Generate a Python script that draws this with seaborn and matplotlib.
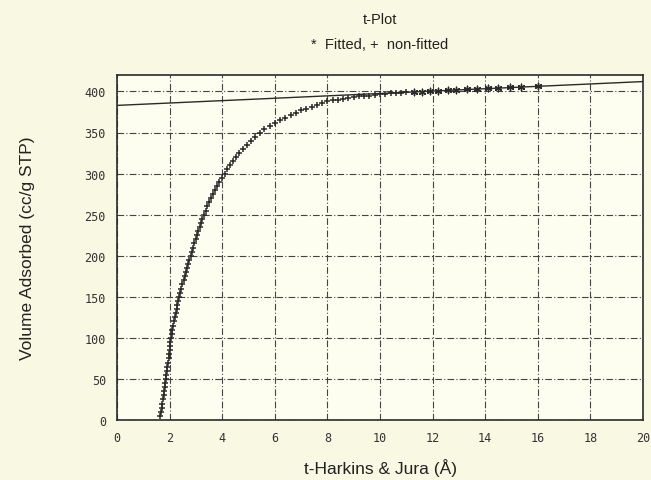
import matplotlib
matplotlib.use("Agg")
import matplotlib.pyplot as plt
import seaborn as sns
import pandas as pd

# ---- data ----
nonfit_t = [1.65, 1.67, 1.70, 1.72, 1.74, 1.77, 1.79, 1.81, 1.84, 1.86,
            1.88, 1.90, 1.92, 1.94, 1.96, 1.98, 2.00, 2.02, 2.03, 2.05,
            2.08, 2.11, 2.14, 2.17, 2.20, 2.23, 2.27, 2.30, 2.33, 2.36,
            2.40, 2.45, 2.49, 2.53, 2.57, 2.62, 2.66, 2.71, 2.75, 2.80,
            2.85, 2.89, 2.94, 2.99, 3.04, 3.09, 3.14, 3.19, 3.25, 3.30,
            3.37, 3.43, 3.50, 3.57, 3.64, 3.72, 3.80, 3.89, 3.99, 4.10,
            4.19, 4.29, 4.40, 4.52, 4.64, 4.78, 4.93, 5.08, 5.25, 5.45,
            5.60, 5.80, 6.00, 6.20, 6.40, 6.60, 6.80, 7.00, 7.20, 7.40,
            7.60, 7.80, 8.00, 8.20, 8.40, 8.60, 8.80, 9.00, 9.20, 9.40,
            9.60, 9.80, 10.0, 10.2, 10.4, 10.6, 10.8, 11.0]
nonfit_v = [5, 10, 15, 20, 25, 30, 35, 40, 45, 50,
            55, 60, 65, 70, 75, 80, 85, 90, 95, 100,
            105, 110, 115, 120, 125, 130, 135, 140, 145, 150,
            155, 160, 165, 170, 175, 180, 185, 190, 195, 200,
            205, 210, 215, 220, 225, 230, 235, 240, 245, 250,
            255, 260, 265, 270, 275, 280, 285, 290, 295, 300,
            305, 310, 315, 320, 325, 330, 335, 340, 345, 350,
            354, 358, 362, 365, 368, 371, 374, 377, 379, 381,
            384, 386, 388, 389, 390, 391, 392, 393, 394, 394.5,
            395, 396, 396.5, 397, 397.5, 398, 398.5, 399]

fit_t = [11.3, 11.6, 11.9, 12.2, 12.6, 12.9, 13.3, 13.7, 14.1, 14.5, 14.96, 15.35, 16.0]
fit_v = [399.6, 399.6, 400.6, 400.5, 401.6, 401.5, 402.6, 402.6, 403.7, 403.8, 405.0, 405.1, 406.4]

line_t = [0, 20]
line_v = [383, 412]

x_ticks = [0, 2, 4, 6, 8, 10, 12, 14, 16, 18, 20]
y_ticks = [0, 50, 100, 150, 200, 250, 300, 350, 400]

# ---- style ----
sns.set_theme(style="white")
plt.rcParams['font.family'] = ['Liberation Sans', 'DejaVu Sans']

ink = "#2a2a2a"
fig = plt.figure(figsize=(6.51, 4.81), dpi=100, facecolor="#f9f8e2")
ax = fig.add_axes([117/651, 1-421/481, (643-117)/651, (421-76)/481])
ax.set_facecolor("#fdfdf0")

df_nf = pd.DataFrame({"t": nonfit_t, "v": nonfit_v})
df_f = pd.DataFrame({"t": fit_t, "v": fit_v})
df_l = pd.DataFrame({"t": line_t, "v": line_v})

sns.lineplot(data=df_l, x="t", y="v", ax=ax, color=ink, linewidth=1.0)
sns.scatterplot(data=df_nf, x="t", y="v", ax=ax, marker="+", s=18,
                color=ink, linewidth=1.1)
sns.scatterplot(data=df_f, x="t", y="v", ax=ax, marker=(6, 2, 0), s=22,
                color=ink, linewidth=1.0)

ax.set_xlim(0, 20)
ax.set_ylim(0, 420)
ax.set_xticks(x_ticks)
ax.set_yticks(y_ticks)
ax.set_xticklabels([str(v) for v in x_ticks], family="DejaVu Sans Mono",
                   fontsize=8.5, color="#333333")
ax.set_yticklabels([str(v) for v in y_ticks], family="DejaVu Sans Mono",
                   fontsize=8.5, color="#333333")
ax.tick_params(axis="both", direction="inout", length=8, width=1.0,
               color=ink, pad=4)
ax.grid(True, color="#444444", linestyle=(0, (6, 2, 1, 2)), linewidth=0.8)
for s in ax.spines.values():
    s.set_color(ink)
    s.set_linewidth(1.2)
    s.set_visible(True)

ax.set_xlabel("t-Harkins & Jura (Å)", fontsize=12.5, color="#222222", labelpad=10)
ax.set_ylabel("Volume Adsorbed (cc/g STP)", fontsize=12.5, color="#222222", labelpad=36)

fig.text(380/651, 1-20/481, "t-Plot", ha="center", va="center",
         fontsize=10.5, color="#222222")
fig.text(380/651, 1-45/481, "*  Fitted, +  non-fitted", ha="center", va="center",
         fontsize=10.5, color="#222222")

fig.savefig("out.png", dpi=100, facecolor=fig.get_facecolor())
